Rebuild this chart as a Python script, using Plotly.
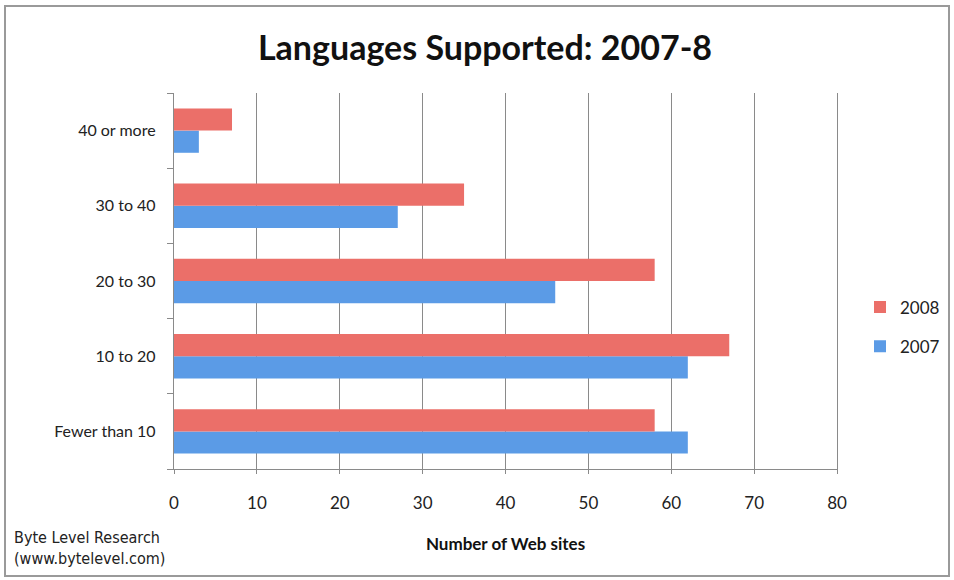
import plotly.graph_objects as go

categories = ["Fewer than 10", "10 to 20", "20 to 30", "30 to 40", "40 or more"]
values_2007 = [62, 62, 46, 27, 3]
values_2008 = [58, 67, 58, 35, 7]
x_ticks = [0, 10, 20, 30, 40, 50, 60, 70, 80]

W, H = 954, 580
L, R, T, B = 174, 837, 93, 469

fig = go.Figure()
fig.add_trace(go.Bar(
    y=categories, x=values_2007, orientation="h", name="2007",
    legendgroup="a", legendrank=2,
    marker=dict(color="#5B9BE6", line=dict(width=0)),
))
fig.add_trace(go.Bar(
    y=categories, x=values_2008, orientation="h", name="2008",
    legendgroup="b", legendrank=1,
    marker=dict(color="#EB6F69", line=dict(width=0)),
))

fig.update_layout(
    width=W, height=H,
    margin=dict(l=L, r=W - R, t=T, b=H - B, autoexpand=False),
    paper_bgcolor="white", plot_bgcolor="white",
    barmode="group", bargap=0.41, bargroupgap=0,
    font=dict(family="Lato, Open Sans, sans-serif", color="#222"),
    title=dict(
        text="Languages Supported: 2007-8",
        x=485 / W, xanchor="center", xref="container",
        y=1 - 48 / H, yanchor="middle", yref="container",
        font=dict(size=34, color="#111", family="Lato, Open Sans, sans-serif", weight=700),
    ),
    showlegend=True,
    legend=dict(
        x=(860 - L) / (R - L), xanchor="left",
        y=(B - 327) / (B - T), yanchor="middle",
        traceorder="grouped",
        tracegroupgap=14,
        font=dict(size=17, color="#222"),
        bgcolor="rgba(0,0,0,0)",
        itemwidth=30,
    ),
    xaxis=dict(
        range=[0, 80], tickvals=x_ticks,
        showgrid=True, gridcolor="#8a8a8a", gridwidth=1.3,
        showline=True, linecolor="#8a8a8a", linewidth=1.3,
        ticks="outside", ticklen=4, tickcolor="#8a8a8a",
        tickfont=dict(size=17, color="#222"),
        ticklabelstandoff=14,
        zeroline=False,
        title=dict(text="<b>Number of Web sites</b>", font=dict(size=17, color="#111"), standoff=26),
        fixedrange=True,
    ),
    yaxis=dict(
        type="category", categoryorder="array", categoryarray=categories,
        showline=True, linecolor="#8a8a8a", linewidth=1.3, mirror=True,
        ticks="outside", ticklen=6, tickcolor="#8a8a8a", tickson="boundaries",
        tickfont=dict(size=16, color="#222"),
        ticklabelstandoff=14,
        showgrid=False,
        fixedrange=True,
    ),
)

fig.add_annotation(
    text="Byte Level Research<br>(www.bytelevel.com)",
    xref="paper", yref="paper",
    x=(12 - L) / (R - L), y=(B - 570) / (B - T),
    xanchor="left", yanchor="bottom", align="left", showarrow=False,
    font=dict(size=16, color="#222", family="DejaVu Sans Condensed, Liberation Sans Narrow, Roboto, sans-serif"),
)

fig.add_shape(
    type="rect", xref="paper", yref="paper",
    x0=(5 - L) / (R - L), x1=(949 - L) / (R - L),
    y0=(B - 576) / (B - T), y1=(B - 6) / (B - T),
    line=dict(color="#9a9a9a", width=2), fillcolor="rgba(0,0,0,0)", layer="below",
)

fig.write_html("out.html")
